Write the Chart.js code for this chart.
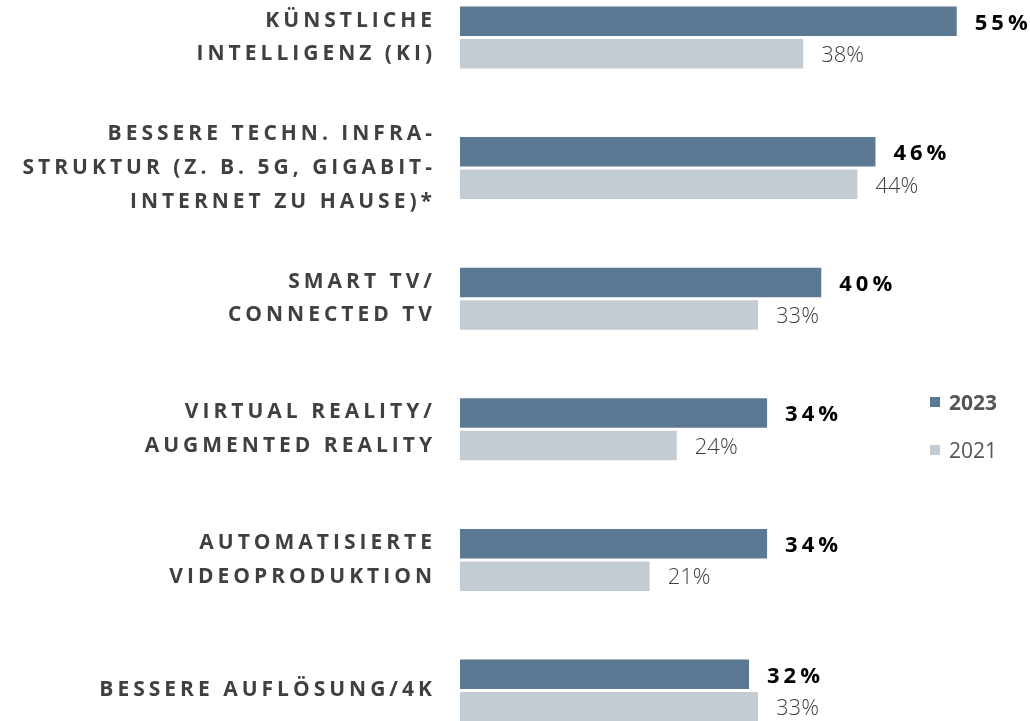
<!DOCTYPE html>
<html>
<head>
<meta charset="utf-8">
<script src="https://cdn.jsdelivr.net/npm/chart.js@4"></script>
<style>
  body { margin: 0; background: #fff; }
  #wrap { position: relative; width: 1030px; height: 721px; }
  #legend { position: absolute; left: 930px; top: 387px; font-family: "Open Sans", sans-serif; font-size: 21px; color: #555; }
  #legend .item { display: flex; align-items: center; height: 30px; margin-bottom: 18px; }
  #legend .box { width: 10px; height: 10px; margin-right: 9px; }
</style>
</head>
<body>
<div id="wrap">
  <canvas id="chart"></canvas>
  <div id="legend"></div>
</div>
<script>
// categories (multi-line labels as shown)
var categories = [
  ["KÜNSTLICHE", "INTELLIGENZ (KI)"],
  ["BESSERE TECHN. INFRA-", "STRUKTUR (Z. B. 5G, GIGABIT-", "INTERNET ZU HAUSE)*"],
  ["SMART TV/", "CONNECTED TV"],
  ["VIRTUAL REALITY/", "AUGMENTED REALITY"],
  ["AUTOMATISIERTE", "VIDEOPRODUKTION"],
  "BESSERE AUFLÖSUNG/4K"
];
var values2023 = [55, 46, 40, 34, 34, 32];
var values2021 = [38, 44, 33, 24, 21, 33];
var seriesLabels = ["2023", "2021"];

var colors = {
  dark: "rgb(92, 121, 148)",
  light: "rgb(196, 204, 211)"
};

// letter spacing for the axis labels, reset before the bars
var spacingPlugin = {
  id: "spacing",
  beforeDraw: function(chart) {
    chart.ctx.letterSpacing = "4px";
  },
  beforeDatasetsDraw: function(chart) {
    chart.ctx.letterSpacing = "0px";
  }
};

// value labels to the right of each bar
var valueLabels = {
  id: "valueLabels",
  afterDatasetsDraw: function(chart) {
    var ctx = chart.ctx;
    chart.data.datasets.forEach(function(ds, di) {
      var meta = chart.getDatasetMeta(di);
      ctx.save();
      if (di === 0) {
        ctx.font = "bold 22px 'Open Sans'";
        ctx.fillStyle = "#000";
        ctx.letterSpacing = "4px";
      } else {
        ctx.font = "300 22px 'Open Sans'";
        ctx.fillStyle = "#3f3f3f";
        ctx.letterSpacing = "0px";
      }
      ctx.textAlign = "left";
      ctx.textBaseline = "middle";
      meta.data.forEach(function(bar, i) {
        ctx.fillText(ds.data[i] + "%", bar.x + 18, bar.y + 2);
      });
      ctx.restore();
    });
  }
};

var ctx = document.getElementById("chart").getContext("2d");
var chart = new Chart(ctx, {
  type: "bar",
  data: {
    labels: categories,
    datasets: [
      {
        label: seriesLabels[0],
        data: values2023,
        backgroundColor: colors.dark,
        categoryPercentage: 0.4977,
        barPercentage: 0.907,
        clip: false
      },
      {
        label: seriesLabels[1],
        data: values2021,
        backgroundColor: colors.light,
        categoryPercentage: 0.4977,
        barPercentage: 0.907,
        clip: false
      }
    ]
  },
  options: {
    indexAxis: "y",
    responsive: true,
    maintainAspectRatio: false,
    animation: false,
    layout: {
      padding: { top: 37.5, bottom: 30.5, left: 0, right: 1 }
    },
    plugins: {
      legend: { display: false },
      tooltip: { enabled: false }
    },
    scales: {
      x: {
        display: false,
        min: 0,
        max: 63
      },
      y: {
        offset: false,
        grid: { display: false, drawTicks: false },
        border: { display: false },
        ticks: {
          padding: 24,
          color: "#404040",
          font: { family: "'Open Sans'", size: 21, weight: "bold", lineHeight: 1.6 }
        },
        afterFit: function(scale) {
          scale.width = 460;
          scale.paddingTop = 0;
          scale.paddingBottom = 0;
        }
      }
    }
  },
  plugins: [spacingPlugin, valueLabels]
});

// html legend built from the datasets
var legend = document.getElementById("legend");
chart.data.datasets.forEach(function(ds, i) {
  var item = document.createElement("div");
  item.className = "item";
  var box = document.createElement("span");
  box.className = "box";
  box.style.background = ds.backgroundColor;
  var txt = document.createElement("span");
  txt.textContent = ds.label;
  txt.style.fontWeight = i === 0 ? "bold" : "normal";
  item.appendChild(box);
  item.appendChild(txt);
  legend.appendChild(item);
});
</script>
</body>
</html>
